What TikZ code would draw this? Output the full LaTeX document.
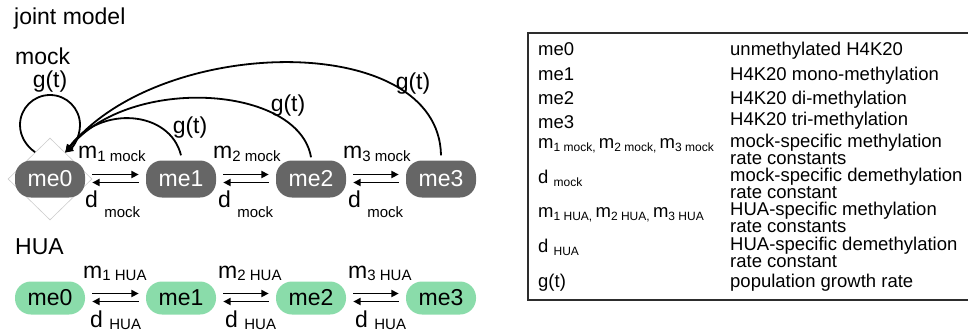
\documentclass[tikz,border=0pt]{standalone}
\usepackage{fontspec}
\setmainfont{Liberation Sans}
\usetikzlibrary{arrows.meta,shapes.geometric}
\definecolor{mockgray}{RGB}{102,102,102}
\definecolor{huagreen}{RGB}{138,220,170}
\definecolor{framegray}{RGB}{45,45,45}
\definecolor{anchorgray}{RGB}{205,205,205}
% lowered subscript: size, drop, text
\newcommand{\lowsub}[3]{\raisebox{-#2pt}{\fontsize{#1}{#1}\selectfont #3}}
\begin{document}
\begin{tikzpicture}[x=1pt,y=-1pt,
  big/.style={font=\fontsize{23}{27}\selectfont},
  small/.style={font=\fontsize{18.5}{20}\selectfont},
  state/.style={rectangle,rounded corners=16pt,minimum width=70pt,inner sep=0pt,big},
  mockstate/.style={state,fill=mockgray,text=white,minimum height=37pt},
  huastate/.style={state,fill=huagreen,text=black,minimum height=33pt},
  lbl/.style={big,inner sep=0pt,anchor=base west},
  clbl/.style={big,inner sep=0pt,anchor=base},
  tlbl/.style={small,inner sep=0pt,anchor=base west},
  rate/.style={line width=1.8pt,-{Triangle[length=7.5pt,width=7pt]}},
  growth/.style={line width=1.8pt,-{Triangle[length=8pt,width=7pt]}},
]
\useasboundingbox (0,0) rectangle (968,333);

% titles
\node[lbl] (title) at (14,24) {joint model};
\node[lbl] (mocklbl) at (15,64) {mock};
\node[lbl] (hualbl) at (15,254) {HUA};

% anchor diamond behind me0
\node[diamond,aspect=1,minimum width=84pt,minimum height=82pt,inner sep=0pt,
      draw=anchorgray,line width=0.6pt,fill=white] (d0) at (50,179) {};

% mock states
\node[mockstate] (k0) at (50,179) {me0};
\node[mockstate] (k1) at (181,179) {me1};
\node[mockstate] (k2) at (311,179) {me2};
\node[mockstate] (k3) at (441,179) {me3};

% HUA states
\node[huastate] (h0) at (50,298) {me0};
\node[huastate] (h1) at (181,298) {me1};
\node[huastate] (h2) at (311,298) {me2};
\node[huastate] (h3) at (441,298) {me3};

% reversible methylation steps
\foreach \a/\b in {k0/k1,k1/k2,k2/k3,h0/h1,h1/h2,h2/h3}{
  \draw[rate] ([xshift=7pt,yshift=4.5pt]\a.east) -- ([xshift=-7pt,yshift=4.5pt]\b.west);
  \draw[rate] ([xshift=-7pt,yshift=-3.5pt]\b.west) -- ([xshift=7pt,yshift=-3.5pt]\a.east);
}

% mock rate labels
\node[lbl] (mm1) at (78,158) {m\lowsub{15}{3.5}{1 mock}};
\node[lbl] (mm2) at (213,158) {m\lowsub{15}{3.5}{2 mock}};
\node[lbl] (mm3) at (343,158) {m\lowsub{15}{3.5}{3 mock}};
\node[lbl] (dm1) at (85,207) {d \lowsub{15}{10}{mock}};
\node[lbl] (dm2) at (218,207) {d \lowsub{15}{10}{mock}};
\node[lbl] (dm3) at (348,207) {d \lowsub{15}{10}{mock}};

% HUA rate labels
\node[lbl] (mh1) at (83,278) {m\lowsub{15}{2.5}{1 HUA}};
\node[lbl] (mh2) at (218,278) {m\lowsub{15}{2.5}{2 HUA}};
\node[lbl] (mh3) at (348,278) {m\lowsub{15}{2.5}{3 HUA}};
\node[lbl] (dh1) at (90,327) {d \lowsub{15}{2.5}{HUA}};
\node[lbl] (dh2) at (225,327) {d \lowsub{15}{2.5}{HUA}};
\node[lbl] (dh3) at (355,327) {d \lowsub{15}{2.5}{HUA}};

% growth dilution returning to me0: a round self loop, then the three long arcs
\draw[growth] (d0.119)
  .. controls (26.0,145.9) and (20,135.9) .. (20,125)
  .. controls (20,108.4) and (33.4,95) .. (50,95)
  .. controls (66.6,95) and (80,108.4) .. (80,125)
  .. controls (80,136.1) and (73.9,146.3) .. (d0.60);
\draw[growth] ([yshift=5pt]k1.north) .. controls +(-11,-45) and +(35,-48) .. (d0.60);
\draw[growth] ([yshift=3pt]k2.north) .. controls +(-12,-72) and +(65,-78) .. (d0.60);
\draw[growth] ([yshift=5pt]k3.north) .. controls +(-2,-125) and +(95,-118) .. (d0.60);
\node[clbl] (g0) at (50,87) {g(t)};
\node[clbl] (g1) at (190,133) {g(t)};
\node[clbl] (g2) at (288,111) {g(t)};
\node[clbl] (g3) at (413,89) {g(t)};

% legend frame (open on the right)
\draw[framegray,line width=1.5pt] (975,33) -- (528,33) -- (528,300) -- (975,300);

% legend: symbols
\node[tlbl] (s0) at (538,55) {me0};
\node[tlbl] (s1) at (538,80) {me1};
\node[tlbl] (s2) at (538,104) {me2};
\node[tlbl] (s3) at (538,128) {me3};
\node[tlbl] (s4) at (538,148) {m\lowsub{12}{3}{1 mock, }m\lowsub{12}{3}{2 mock, }m\lowsub{12}{3}{3 mock}};
\node[tlbl] (s5) at (538,183) {d \lowsub{12}{3}{mock}};
\node[tlbl] (s6) at (538,217) {m\lowsub{12}{3}{1 HUA, }m\lowsub{12}{3}{2 HUA, }m\lowsub{12}{3}{3 HUA}};
\node[tlbl] (s7) at (538,252) {d \lowsub{12}{3}{HUA}};
\node[tlbl] (s8) at (538,287) {g(t)};

% legend: meanings
\node[tlbl] (e0) at (730,55) {unmethylated H4K20};
\node[tlbl] (e1) at (730,80) {H4K20 mono-methylation};
\node[tlbl] (e2) at (730,104) {H4K20 di-methylation};
\node[tlbl] (e3) at (730,125) {H4K20 tri-methylation};
\node[tlbl] (e4) at (730,147) {mock-specific methylation};
\node[tlbl] (e4b) at (730,164) {rate constants};
\node[tlbl] (e5) at (730,181) {mock-specific demethylation};
\node[tlbl] (e5b) at (730,198) {rate constant};
\node[tlbl] (e6) at (730,215) {HUA-specific methylation};
\node[tlbl] (e6b) at (730,232) {rate constants};
\node[tlbl] (e7) at (730,250) {HUA-specific demethylation};
\node[tlbl] (e7b) at (730,267) {rate constant};
\node[tlbl] (e8) at (730,287) {population growth rate};
\end{tikzpicture}
\end{document}
